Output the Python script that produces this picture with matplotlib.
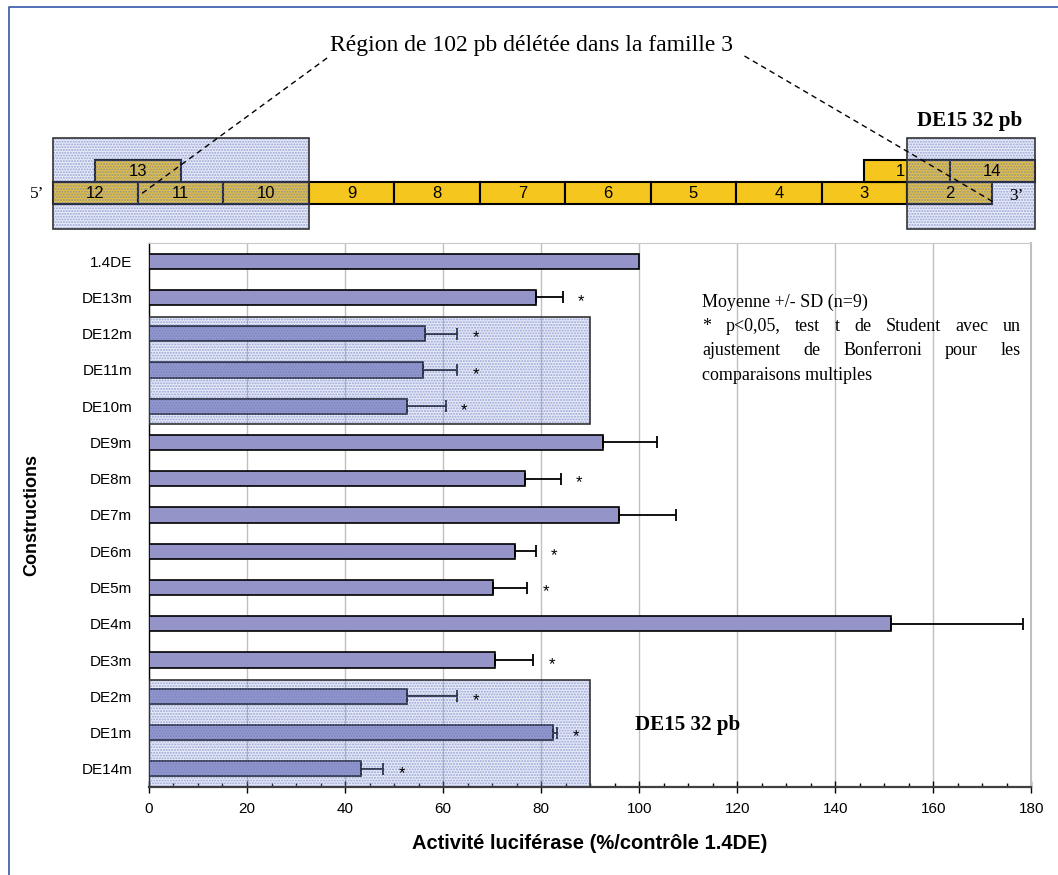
import numpy as np
import matplotlib.pyplot as plt
from matplotlib.patches import Rectangle
from matplotlib.ticker import MultipleLocator

SANS = ['Liberation Sans', 'DejaVu Sans']
SERIF = ['Liberation Serif', 'DejaVu Serif']

# données du graphique
constructs = ['1.4DE', 'DE13m', 'DE12m', 'DE11m', 'DE10m', 'DE9m', 'DE8m', 'DE7m',
              'DE6m', 'DE5m', 'DE4m', 'DE3m', 'DE2m', 'DE1m', 'DE14m']
activity = [100.0, 78.9, 56.4, 55.9, 52.7, 92.6, 76.8, 95.9, 74.7, 70.2, 151.4, 70.6, 52.7, 82.4, 43.3]
sd = [0.0, 5.5, 6.5, 7.0, 7.8, 11.0, 7.2, 11.6, 4.2, 6.9, 26.9, 7.8, 10.2, 0.9, 4.5]
signif = [False, True, True, True, True, False, True, False, True, True, False, True, True, True, True]
boxed_groups = [('DE12m', 'DE10m'), ('DE2m', 'DE14m')]
box_limit = 90

# schéma du promoteur (unités = segments)
main_segments = ['12', '11', '10', '9', '8', '7', '6', '5', '4', '3', '2']
upper_segments = ['13', '1', '14']
upper_starts = [0.5, 9.5, 10.5]
deleted_regions = [(0, 3), (10, 11.5)]

bar_color = '#9494c8'
gold = '#f5c61d'
shade = (0.6, 0.66, 0.88, 0.22)
hatch_col = (0.40, 0.47, 0.75, 0.6)


def shaded_box(axis, xy, w, h, z):
    axis.add_patch(Rectangle(xy, w, h, facecolor=shade, hatch='......',
                             edgecolor=hatch_col, linewidth=0, zorder=z))
    axis.add_patch(Rectangle(xy, w, h, facecolor='none',
                             edgecolor='#333333', linewidth=1.2, zorder=z + 0.1))


fig = plt.figure(figsize=(10.58, 8.75), dpi=100)

# ---------------- graphique principal ----------------
ax = fig.add_axes([0.1408, 0.1006, 0.834, 0.6217])
y = np.arange(len(constructs))
ax.barh(y, activity, height=0.42, color=bar_color, edgecolor='black', linewidth=1.2, zorder=3)
act = np.array(activity)
err = np.array(sd)
m = err > 0
ax.errorbar(act[m], y[m], xerr=[np.zeros(m.sum()), err[m]], fmt='none', ecolor='black',
            elinewidth=1.3, capsize=4, capthick=1.3, zorder=4)
for i, (a, s, sig) in enumerate(zip(activity, sd, signif)):
    if sig:
        ax.text(a + s + 3.8, i + 0.12, '*', ha='center', va='center', fontsize=12,
                family=SANS, zorder=8)

for top, bottom in boxed_groups:
    i0, i1 = constructs.index(top), constructs.index(bottom)
    shaded_box(ax, (0, i0 - 0.46), box_limit, i1 - i0 + 0.96, 5)

ax.set_xlim(0, 180)
ax.set_ylim(len(constructs) - 0.5, -0.5)
ax.set_yticks(y)
ax.set_yticklabels(constructs, family=SANS, fontsize=11)
ax.tick_params(axis='y', length=0, pad=12)
ax.xaxis.set_major_locator(MultipleLocator(20))
ax.xaxis.set_minor_locator(MultipleLocator(5))
ax.tick_params(axis='x', which='major', direction='inout', length=9, width=1, labelsize=11, pad=6)
ax.tick_params(axis='x', which='minor', direction='in', length=3, width=1)
for lab in ax.get_xticklabels():
    lab.set_family(SANS)
ax.grid(axis='x', color='#c0c0c0', linewidth=1, zorder=0)
ax.set_axisbelow(True)
ax.spines['bottom'].set_color('#404040')
ax.spines['bottom'].set_linewidth(1.6)
ax.spines['left'].set_linewidth(1.0)
ax.spines['top'].set_color('#c8c8c8')
ax.spines['top'].set_linewidth(0.8)
ax.spines['right'].set_color('#c0c0c0')
ax.spines['right'].set_linewidth(1.5)
ax.set_xlabel('Activité luciférase (%/contrôle 1.4DE)', family=SANS, fontsize=14.5,
              fontweight='bold', labelpad=13)
ax.set_ylabel('Constructions', family=SANS, fontsize=13, fontweight='bold', labelpad=30)

# ---------------- schéma du haut ----------------
seg_w = 85.45
seg_x0 = 52.5
dax = fig.add_axes([0, 0, 1, 1], zorder=5)
dax.set_xlim(-seg_x0 / seg_w, (1058 - seg_x0) / seg_w)
dax.set_ylim(875, 0)
dax.axis('off')
dax.patch.set_alpha(0)

for k, lab in enumerate(main_segments):
    dax.add_patch(Rectangle((k, 181.5), 1, 22, facecolor=gold, edgecolor='black', linewidth=1.5))
    dax.text(k + 0.5, 193.5, lab, ha='center', va='center', fontsize=12, family=SANS, zorder=6)
for lab, s in zip(upper_segments, upper_starts):
    dax.add_patch(Rectangle((s, 160), 1, 21.5, facecolor=gold, edgecolor='black', linewidth=1.5))
    xt = s + 0.5 if lab != '1' else s + 0.42
    dax.text(xt, 172, lab, ha='center', va='center', fontsize=12, family=SANS, zorder=6)

for x0, x1 in deleted_regions:
    shaded_box(dax, (x0, 137.5), x1 - x0, 91.5, 3)

dax.text(-0.1, 194, '5\u2019', ha='right', va='center', fontsize=12.5, family=SERIF)
dax.text(11.28, 196, '3\u2019', ha='center', va='center', fontsize=12.5, family=SERIF, zorder=6)
dax.plot([3.213, 1.006], [58, 196], ls=(0, (4, 3)), color='black', lw=1, zorder=7)
dax.plot([8.098, 11.006], [56, 201.7], ls=(0, (4, 3)), color='black', lw=1, zorder=7)

# ---------------- textes libres (coordonnées pixels) ----------------
tax = fig.add_axes([0, 0, 1, 1], zorder=6)
tax.set_xlim(0, 1058)
tax.set_ylim(875, 0)
tax.axis('off')
tax.patch.set_alpha(0)

tax.plot([9, 9, 1058], [875, 6.5, 6.5], color='#3355aa', lw=1.2)
tax.text(531, 45, 'Région de 102 pb délétée dans la famille 3', ha='center', va='center',
         fontsize=17, family=SERIF)
tax.text(970, 121, 'DE15 32 pb', ha='center', va='center', fontsize=15.2,
         fontweight='bold', family=SERIF)
tax.text(688, 725, 'DE15 32 pb', ha='center', va='center', fontsize=15.2,
         fontweight='bold', family=SERIF, zorder=8)

note = ['Moyenne +/- SD (n=9)',
        '* p<0,05, test t de Student avec un',
        'ajustement de Bonferroni pour les',
        'comparaisons multiples']
renderer = fig.canvas.get_renderer()
left, right, y0, dy = 702, 1021, 302, 24.4
for k, line in enumerate(note):
    yy = y0 + k * dy
    if k in (0, len(note) - 1):
        tax.text(left, yy, line, ha='left', va='center', fontsize=13, family=SERIF)
        continue
    words = line.split()
    texts = [tax.text(0, yy, w, ha='left', va='center', fontsize=13, family=SERIF) for w in words]
    widths = [t.get_window_extent(renderer).width for t in texts]
    gap = (right - left - sum(widths)) / (len(words) - 1)
    xx = left
    for t, w in zip(texts, widths):
        t.set_x(xx)
        xx += w + gap

fig.savefig('out.png', dpi=100)
